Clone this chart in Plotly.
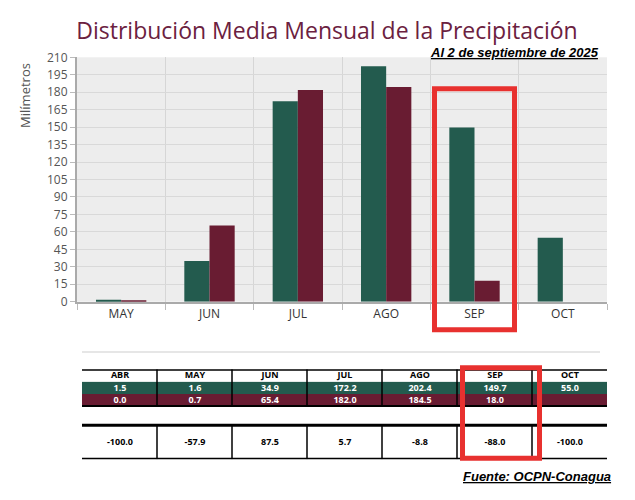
import plotly.graph_objects as go

W, H = 635, 500

months = ["MAY", "JUN", "JUL", "AGO", "SEP", "OCT"]
media = [1.6, 34.9, 172.2, 202.4, 149.7, 55.0]
actual = [0.7, 65.4, 182.0, 184.5, 18.0, None]

table_months = ["ABR", "MAY", "JUN", "JUL", "AGO", "SEP", "OCT"]
table_media = ["1.5", "1.6", "34.9", "172.2", "202.4", "149.7", "55.0"]
table_actual = ["0.0", "0.7", "65.4", "182.0", "184.5", "18.0", ""]
table_diff = ["-100.0", "-57.9", "87.5", "5.7", "-8.8", "-88.0", "-100.0"]

GREEN = "#235B4E"
MAROON = "#691C32"
RED = "#E8312F"
FONT = "Open Sans"

# table row edges (top-down units) : header, green, maroon | gap | difference
EDGE_HDR = [0, 13]
EDGE_VAL = [13, 25.5, 38]
EDGE_DIF = [58, 93]
TBL_BOTTOM = 93


def px(x):
    return x / W


def py(y):
    return 1 - y / H


def bold(lst):
    return [f"<b>{v}</b>" if v else "" for v in lst]


ncols = len(table_months)
fig = go.Figure()
fig.add_trace(go.Bar(x=months, y=media, marker=dict(color=GREEN, line=dict(width=0)),
                     name="Media", hoverinfo="y"))
fig.add_trace(go.Bar(x=months, y=actual, marker=dict(color=MAROON, line=dict(width=0)),
                     name="2025", hoverinfo="y"))

# table built as heatmaps on a second pair of axes
fig.add_trace(go.Heatmap(
    x=table_months, y=EDGE_HDR, z=[[0] * ncols], text=[bold(table_months)],
    texttemplate="%{text}", textfont=dict(family=FONT, size=9, color="black"),
    colorscale=[[0, "white"], [1, "white"]], zmin=0, zmax=1, showscale=False,
    hoverinfo="skip", xaxis="x2", yaxis="y2"))
fig.add_trace(go.Heatmap(
    x=table_months, y=EDGE_VAL, z=[[0] * ncols, [1] * ncols],
    text=[bold(table_media), bold(table_actual)],
    texttemplate="%{text}", textfont=dict(family=FONT, size=9, color="white"),
    colorscale=[[0, GREEN], [1, MAROON]], zmin=0, zmax=1, showscale=False,
    hoverinfo="skip", xaxis="x2", yaxis="y2"))
fig.add_trace(go.Heatmap(
    x=table_months, y=EDGE_DIF, z=[[0] * ncols], text=[bold(table_diff)],
    texttemplate="%{text}", textfont=dict(family=FONT, size=9, color="black"),
    colorscale=[[0, "white"], [1, "white"]], zmin=0, zmax=1, showscale=False,
    hoverinfo="skip", xaxis="x2", yaxis="y2"))

shapes = [
    # white background for the table area
    dict(type="rect", xref="x2 domain", yref="y2 domain", x0=0, x1=1, y0=0, y1=1,
         fillcolor="white", line=dict(width=0), layer="below"),
    # faint separator line above table
    dict(type="line", xref="paper", yref="paper", x0=px(82), x1=px(600), y0=py(355), y1=py(355),
         line=dict(color="#e6e6e6", width=2)),
]
# table borders
for i in range(ncols - 1):
    for (a, b) in [(EDGE_HDR[0], EDGE_VAL[-1]), (EDGE_DIF[0], EDGE_DIF[1])]:
        shapes.append(dict(type="line", xref="x2", yref="y2", x0=i + 0.5, x1=i + 0.5, y0=a, y1=b,
                           line=dict(color="black", width=1.5), layer="above"))
for yv, w in [(EDGE_HDR[0], 3), (EDGE_VAL[-1], 2), (EDGE_DIF[0], 3), (EDGE_DIF[1], 3)]:
    shapes.append(dict(type="line", xref="x2", yref="y2", x0=-0.5, x1=ncols - 0.5, y0=yv, y1=yv,
                       line=dict(color="black", width=w), layer="above"))
# red highlight rectangles
shapes += [
    dict(type="rect", xref="paper", yref="paper", x0=px(434.5), x1=px(514.5), y0=py(82.5), y1=py(332),
         line=dict(color=RED, width=5), layer="above"),
    dict(type="rect", xref="paper", yref="paper", x0=px(462.5), x1=px(539.5), y0=py(371.5), y1=py(465),
         line=dict(color=RED, width=5), layer="above"),
]

annotations = [
    dict(text="Milímetros", textangle=-90, x=px(25), y=py(90), xref="paper", yref="paper",
         xanchor="center", yanchor="middle",
         showarrow=False, font=dict(family=FONT, size=13, color="#555555")),
    dict(text="<b><i><u>Al 2 de septiembre de 2025</u></i></b>", x=px(601), y=py(45),
         xref="paper", yref="paper", xanchor="right", yanchor="middle", showarrow=False,
         font=dict(family="Liberation Sans Narrow, Liberation Sans", size=13, color="black")),
    dict(text="<b><i><u>Fuente: OCPN-Conagua</u></i></b>", x=px(613), y=py(484),
         xref="paper", yref="paper", xanchor="right", yanchor="middle", showarrow=False,
         font=dict(family="Liberation Sans Narrow, Liberation Sans", size=13, color="black")),
]

fig.update_layout(
    width=W, height=H,
    margin=dict(l=0, r=0, t=0, b=0),
    paper_bgcolor="white",
    plot_bgcolor="#ededed",
    barmode="group",
    bargap=0.43,
    bargroupgap=0,
    showlegend=False,
    title=dict(text="Distribución Media Mensual de la Precipitación", x=px(327), y=py(31),
               xanchor="center", yanchor="middle",
               font=dict(family=FONT, size=23, color="#6B2140")),
    xaxis=dict(domain=[px(77), px(607)], type="category", tickson="boundaries",
               ticks="outside", ticklen=6, tickcolor="#bbbbbb", tickwidth=1,
               showgrid=True, gridcolor="#d6d6d6", gridwidth=1,
               showline=True, linecolor="#aaaaaa", linewidth=2,
               tickfont=dict(family=FONT, size=12, color="#333333")),
    yaxis=dict(domain=[py(303), py(50)], range=[0, 210], tick0=0, dtick=15,
               ticks="outside", ticklen=5, tickcolor="#bbbbbb",
               showgrid=True, gridcolor="#d9d9d9", gridwidth=1,
               showline=True, linecolor="#aaaaaa", linewidth=2, zeroline=False,
               tickfont=dict(family=FONT, size=12, color="#555555")),
    xaxis2=dict(domain=[px(82), px(607)], anchor="y2", type="category",
                range=[-0.5, ncols - 0.5], showticklabels=False, showgrid=False,
                zeroline=False, showline=False, ticks=""),
    yaxis2=dict(domain=[py(373 + TBL_BOTTOM), py(373)], anchor="x2", range=[TBL_BOTTOM, 0],
                showticklabels=False, showgrid=False, zeroline=False, showline=False, ticks=""),
    shapes=shapes,
    annotations=annotations,
)

fig.write_html("out.html")
